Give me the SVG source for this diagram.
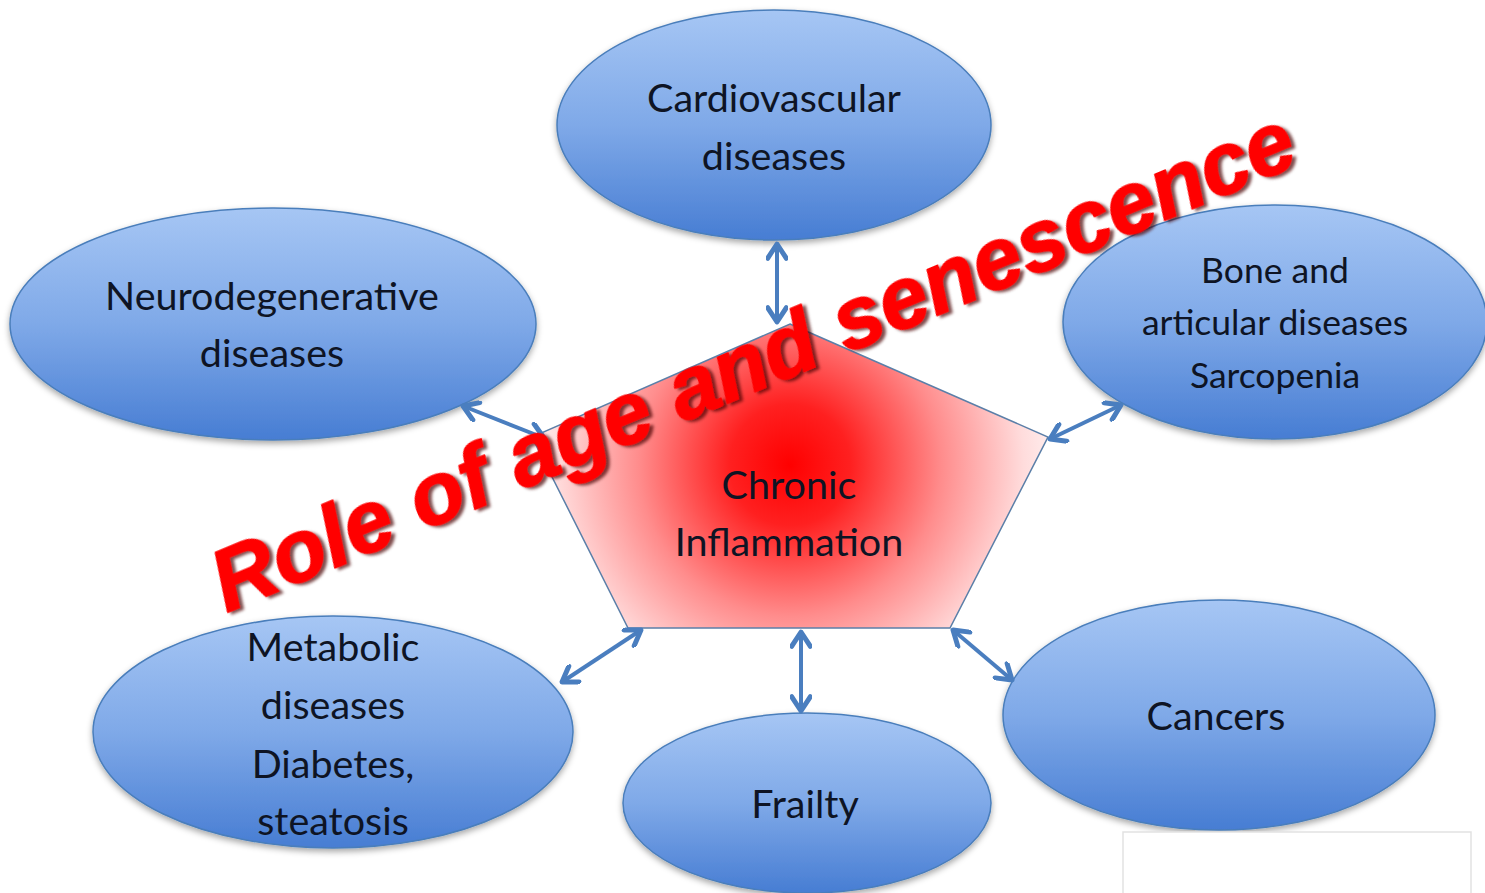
<svg xmlns="http://www.w3.org/2000/svg" width="1485" height="893" viewBox="0 0 1485 893">
<defs>
<linearGradient id="blueFill" x1="0" y1="0" x2="0" y2="1">
<stop offset="0" stop-color="#a6c6f4"/>
<stop offset="0.5" stop-color="#7fa9e8"/>
<stop offset="1" stop-color="#477dd3"/>
</linearGradient>
<radialGradient id="redFill" gradientUnits="userSpaceOnUse" cx="790" cy="465" r="275">
<stop offset="0" stop-color="#ff0000"/>
<stop offset="0.22" stop-color="#ff2020"/>
<stop offset="0.55" stop-color="#ff8c8c"/>
<stop offset="0.85" stop-color="#ffdcdc"/>
<stop offset="1" stop-color="#fff4f4"/>
</radialGradient>
<filter id="shadow" x="-10%" y="-10%" width="120%" height="130%">
<feDropShadow dx="0" dy="3" stdDeviation="3" flood-color="#000" flood-opacity="0.35"/>
</filter>
<filter id="textShadow" x="-5%" y="-20%" width="110%" height="140%">
<feDropShadow dx="3" dy="3" stdDeviation="1.5" flood-color="#4a0000" flood-opacity="0.7"/>
</filter>
<marker id="head" viewBox="0 0 20 20" markerUnits="userSpaceOnUse" markerWidth="22" markerHeight="22" refX="17" refY="10" orient="auto-start-reverse">
<path d="M4,1.5 L17,10 L4,18.5" fill="none" stroke="#4a7ebf" stroke-width="4.5" stroke-linecap="round" stroke-linejoin="round"/>
</marker>
</defs>
<style>
.node ellipse{fill:url(#blueFill);stroke:#4a7ebb;stroke-width:1.5;filter:url(#shadow)}
.lbl{font-family:Lato,"Open Sans","Liberation Sans",sans-serif;font-size:39.5px;fill:#0e1424;text-anchor:middle}
.lbl.s{font-size:35.5px}
.conn line{stroke:#4a7ebf;stroke-width:4;marker-start:url(#head);marker-end:url(#head)}
.title{font-family:"Liberation Sans",Arial,sans-serif;font-weight:bold;font-style:italic;font-size:87px;fill:#ff0000;stroke:#ff0000;stroke-width:1.5;stroke-linejoin:round;text-anchor:middle;filter:url(#textShadow)}
</style>
<rect width="1485" height="893" fill="#ffffff"/>

<g id="pentagon">
<polygon points="790,324 1048,437 950,628 628,628 532,437" fill="url(#redFill)" stroke="#5b7fa8" stroke-width="1.5"/>
<text class="lbl" x="789" y="499">Chronic</text>
<text class="lbl" x="789" y="556">Inflammation</text>
</g>

<g id="cardiovascular" class="node">
<ellipse cx="774" cy="125" rx="217" ry="115"/>
<text class="lbl" x="774" y="112">Cardiovascular</text>
<text class="lbl" x="774" y="170">diseases</text>
</g>

<g id="neurodegenerative" class="node">
<ellipse cx="273" cy="324" rx="263" ry="116"/>
<text class="lbl" x="272" y="310">Neurodegenerative</text>
<text class="lbl" x="272" y="367">diseases</text>
</g>

<g id="bone" class="node">
<ellipse cx="1275" cy="322" rx="212" ry="117"/>
<text class="lbl s" x="1275" y="283">Bone and</text>
<text class="lbl s" x="1275" y="335">articular diseases</text>
<text class="lbl s" x="1275" y="388">Sarcopenia</text>
</g>

<g id="metabolic" class="node">
<ellipse cx="333" cy="732" rx="240" ry="116"/>
<text class="lbl" x="333" y="661">Metabolic</text>
<text class="lbl" x="333" y="719">diseases</text>
<text class="lbl" x="333" y="778">Diabetes,</text>
<text class="lbl" x="333" y="835">steatosis</text>
</g>

<g id="frailty" class="node">
<ellipse cx="807" cy="803" rx="184" ry="90"/>
<text class="lbl" x="805" y="818">Frailty</text>
</g>

<g id="cancers" class="node">
<ellipse cx="1219" cy="715" rx="216" ry="115"/>
<text class="lbl" x="1216" y="730">Cancers</text>
</g>

<g id="connectors" class="conn">
<line x1="777" y1="244" x2="777" y2="322"/>
<line x1="463" y1="406" x2="544" y2="438"/>
<line x1="1050" y1="439" x2="1121" y2="405"/>
<line x1="562" y1="682" x2="641" y2="630"/>
<line x1="801" y1="632" x2="801" y2="711"/>
<line x1="953" y1="630" x2="1012" y2="680"/>
</g>

<rect x="1123" y="832" width="348" height="70" fill="#ffffff" stroke="#e2e2e2" stroke-width="1.5"/>

<text class="title" transform="translate(764,388) rotate(-22.7)" x="0" y="0">Role of age and senescence</text>
</svg>
